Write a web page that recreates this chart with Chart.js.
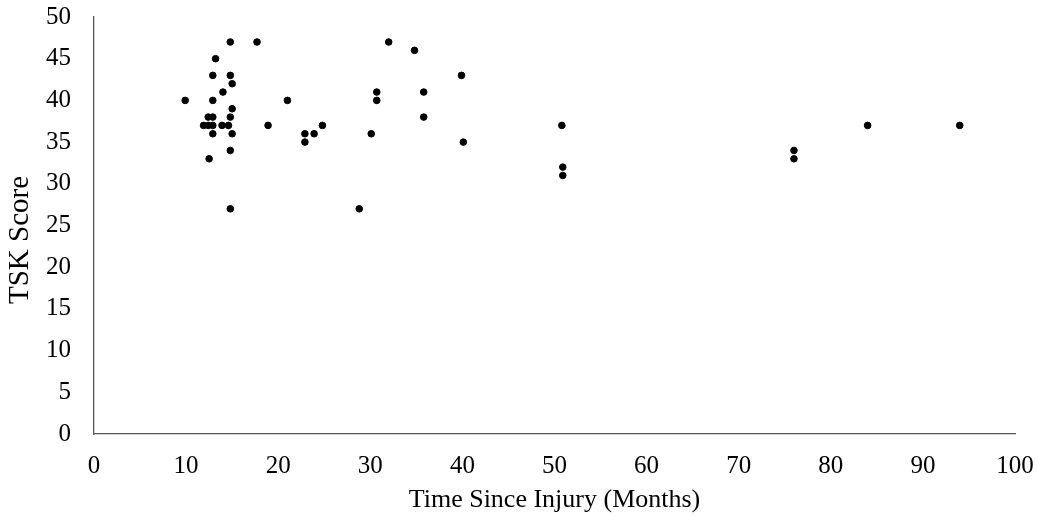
<!DOCTYPE html>
<html>
<head>
<meta charset="utf-8">
<script src="https://cdn.jsdelivr.net/npm/chart.js@4/dist/chart.umd.min.js"></script>
<style>
  html, body { margin: 0; padding: 0; background: #fff; }
</style>
</head>
<body>
<canvas id="c" width="1038" height="516"></canvas>
<script>
// TSK score vs time since injury (months)
const months = [
  14.8, 17.7, 13.2, 12.9, 14.8, 15.0, 14.0, 9.9, 12.9, 15.0,
  12.4, 12.9, 14.8, 11.9, 12.4, 12.9, 13.9, 14.6, 18.9, 12.9,
  15.0, 14.8, 12.5, 14.8,
  32.0, 34.8, 39.9, 21.0, 30.7, 30.7, 35.8, 35.8, 22.9, 23.9,
  24.8, 22.9, 30.1, 40.1, 28.8,
  50.8, 50.9, 50.9, 76.0, 76.0, 84.0, 94.0
];
const tsk = [
  47, 47, 45, 43, 43, 42, 41, 40, 40, 39,
  38, 38, 38, 37, 37, 37, 37, 37, 37, 36,
  36, 34, 33, 27,
  47, 46, 43, 40, 41, 40, 41, 38, 36, 36,
  37, 35, 36, 35, 27,
  37, 32, 31, 34, 33, 37, 37
];

const points = months.map((m, i) => ({ x: m, y: tsk[i] }));
const serif = "'Liberation Serif', 'Times New Roman', serif";
const tickFont = { family: serif, size: 25 };
const titleFont = { family: serif, size: 26 };

new Chart(document.getElementById("c").getContext("2d"), {
  type: "scatter",
  data: {
    datasets: [{
      data: points,
      backgroundColor: "#000",
      borderColor: "#000",
      pointRadius: 3.3,
      pointHoverRadius: 3.3
    }]
  },
  options: {
    responsive: false,
    animation: false,
    layout: { padding: { top: 17, right: 23, left: 0, bottom: 0 } },
    plugins: { legend: { display: false }, tooltip: { enabled: false } },
    scales: {
      x: {
        min: 0, max: 100,
        ticks: { stepSize: 10, color: "#000", font: tickFont, padding: 17, maxRotation: 0 },
        grid: { display: false, drawTicks: false },
        border: { display: true, color: "#555", width: 1.3 },
        title: { display: true, text: "Time Since Injury (Months)", color: "#000", font: titleFont, padding: 0 },
        afterFit: s => { s.height = 82; s.paddingLeft = 0; s.paddingRight = 0; }
      },
      y: {
        min: 0, max: 50,
        ticks: { stepSize: 5, color: "#000", font: tickFont, padding: 23 },
        grid: { display: false, drawTicks: false },
        border: { display: true, color: "#555", width: 1.3 },
        // trailing spaces nudge the label down a little, like the original
        title: { display: true, text: "TSK Score\u00a0\u00a0\u00a0\u00a0", color: "#000", font: { family: serif, size: 29 }, padding: 3 },
        afterFit: s => { s.width = 94; s.paddingTop = 0; s.paddingBottom = 0; }
      }
    }
  }
});
</script>
</body>
</html>
